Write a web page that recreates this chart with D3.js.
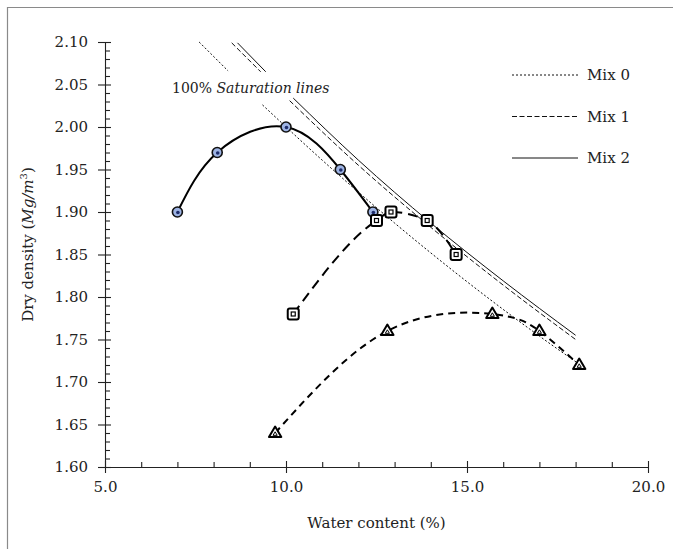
<!DOCTYPE html>
<html>
<head>
<meta charset="utf-8">
<script src="https://cdn.jsdelivr.net/npm/d3@7/dist/d3.min.js"></script>
<style>
  body { margin: 0; background: #fff; overflow: hidden; }
  svg { display: block; font-family: "DejaVu Serif", serif; }
  .axis path, .axis line { stroke: #222; stroke-width: 1.1; }
  .axis text { font-size: 15px; fill: #222; font-family: "DejaVu Serif", serif; }
</style>
</head>
<body>
<div id="chart"></div>
<script>
// Compaction curves (water content %, dry density Mg/m3)
const circleW = [7.0, 8.1, 10.0, 11.5, 12.4];
const circleD = [1.90, 1.97, 2.00, 1.95, 1.90];
const squareW = [10.2, 12.5, 12.9, 13.9, 14.7];
const squareD = [1.78, 1.89, 1.90, 1.89, 1.85];
const triW = [9.7, 12.8, 15.7, 17.0, 18.1];
const triD = [1.64, 1.76, 1.78, 1.76, 1.72];

// 100% saturation lines (upper piece / lower piece, gap for the label)
const sat0Upper = [[7.6, 2.100], [8.4, 2.066]];
const sat0Lower = [[9.35, 2.026], [11.0, 1.961], [13.0, 1.887], [15.0, 1.818], [17.0, 1.754], [18.1, 1.721]];
const sat1Upper = [[8.5, 2.099], [9.3, 2.065]];
const sat1Lower = [[10.1, 2.031], [12.0, 1.955], [14.0, 1.882], [16.0, 1.814], [18.0, 1.750]];
const sat2Upper = [[8.66, 2.099], [9.44, 2.065]];
const sat2Lower = [[10.2, 2.034], [12.0, 1.961], [14.0, 1.887], [16.0, 1.819], [18.0, 1.755]];

const legendLabels = ["Mix 0", "Mix 1", "Mix 2"];
const xMajor = [5, 10, 15, 20];
const yMajor = [1.60, 1.65, 1.70, 1.75, 1.80, 1.85, 1.90, 1.95, 2.00, 2.05, 2.10];

const W = 673, H = 549;
const svg = d3.select("#chart").append("svg").attr("width", W).attr("height", H);

// outer frame: only its top and left edges are inside the picture
svg.append("path")
    .attr("d", `M7.5,${H} V7.5 H${W}`)
    .attr("fill", "none").attr("stroke", "#8a8a8a").attr("stroke-width", 1.2);

const x = d3.scaleLinear().domain([5, 20]).range([105, 648]);
const y = d3.scaleLinear().domain([1.6, 2.1]).range([467, 42]);

const xMinor = d3.range(6, 20).filter(v => v % 5 !== 0);
const yMinor = d3.range(160, 211).filter(v => v % 5 !== 0).map(v => v / 100);

// x axis
const xAxisY = y(1.6);
svg.append("g").attr("class", "axis")
    .attr("transform", `translate(0,${xAxisY})`)
    .call(d3.axisBottom(x).tickValues(xMajor).tickSize(6).tickSizeOuter(0)
        .tickPadding(8).tickFormat(d3.format(".1f")));
svg.append("g").attr("class", "axis")
    .attr("transform", `translate(0,${xAxisY})`)
    .call(d3.axisBottom(x).tickValues(xMajor).tickSize(-6).tickSizeOuter(0).tickFormat(""))
    .select(".domain").remove();
svg.append("g").attr("class", "axis")
    .attr("transform", `translate(0,${xAxisY})`)
    .call(d3.axisBottom(x).tickValues(xMinor).tickSize(-5).tickSizeOuter(0).tickFormat(""))
    .select(".domain").remove();

// y axis
const yAxisX = x(5);
svg.append("g").attr("class", "axis")
    .attr("transform", `translate(${yAxisX},0)`)
    .call(d3.axisLeft(y).tickValues(yMajor).tickSize(7).tickSizeOuter(0)
        .tickPadding(10).tickFormat(d3.format(".2f")));
svg.append("g").attr("class", "axis")
    .attr("transform", `translate(${yAxisX},0)`)
    .call(d3.axisLeft(y).tickValues(yMajor).tickSize(-6).tickSizeOuter(0).tickFormat(""))
    .select(".domain").remove();
svg.append("g").attr("class", "axis")
    .attr("transform", `translate(${yAxisX},0)`)
    .call(d3.axisLeft(y).tickValues(yMinor).tickSize(-5).tickSizeOuter(0).tickFormat(""))
    .select(".domain").remove();

// axis labels
svg.append("text")
    .attr("x", (x(5) + x(20)) / 2).attr("y", 528)
    .attr("text-anchor", "middle")
    .style("font-size", "15px").style("fill", "#222")
    .text("Water content (%)");

const yLab = svg.append("text")
    .attr("transform", `translate(33,${(y(1.6) + y(2.1)) / 2 - 10}) rotate(-90)`)
    .attr("text-anchor", "middle")
    .style("font-size", "15px").style("fill", "#222");
yLab.append("tspan").text("Dry density (");
yLab.append("tspan").style("font-style", "italic").text("Mg/m");
yLab.append("tspan").attr("dy", -6).style("font-size", "10px").text("3");
yLab.append("tspan").attr("dy", 6).text(")");

// saturation lines
const satLine = d3.line().x(d => x(d[0])).y(d => y(d[1])).curve(d3.curveMonotoneX);
const satStyles = [
    { up: sat0Upper, low: sat0Lower, dash: "2,2" },
    { up: sat1Upper, low: sat1Lower, dash: "5,2.5" },
    { up: sat2Upper, low: sat2Lower, dash: null }
];
satStyles.forEach(s => {
    [s.up, s.low].forEach(pts => {
        svg.append("path")
            .attr("d", satLine(pts))
            .attr("fill", "none")
            .attr("stroke", "#111")
            .attr("stroke-width", 1)
            .attr("stroke-dasharray", s.dash);
    });
});

const satText = svg.append("text")
    .attr("x", 172).attr("y", 93)
    .style("font-size", "14px").style("fill", "#222");
satText.append("tspan").text("100% ");
satText.append("tspan").style("font-style", "italic").text("Saturation lines");

// legend
legendLabels.forEach((lab, i) => {
    const ly = 75 + i * 41.5;
    svg.append("line")
        .attr("x1", 512).attr("x2", 578).attr("y1", ly).attr("y2", ly)
        .attr("stroke", "#111").attr("stroke-width", 1)
        .attr("stroke-dasharray", satStyles[i].dash);
    svg.append("text")
        .attr("x", 587).attr("y", ly + 5)
        .style("font-size", "15px").style("fill", "#222")
        .text(lab);
});

// compaction curves
const natLine = d3.line().x(d => x(d[0])).y(d => y(d[1])).curve(d3.curveNatural);
const monoLine = d3.line().x(d => x(d[0])).y(d => y(d[1])).curve(d3.curveMonotoneX);
const circlePts = d3.zip(circleW, circleD);
const squarePts = d3.zip(squareW, squareD);
const triPts = d3.zip(triW, triD);

svg.append("path").attr("d", natLine(circlePts))
    .attr("fill", "none").attr("stroke", "#000").attr("stroke-width", 2);
svg.append("path").attr("d", monoLine(squarePts))
    .attr("fill", "none").attr("stroke", "#000").attr("stroke-width", 2)
    .attr("stroke-dasharray", "10,6");
svg.append("path").attr("d", natLine(triPts))
    .attr("fill", "none").attr("stroke", "#000").attr("stroke-width", 2)
    .attr("stroke-dasharray", "7,5");

// markers
const cg = svg.append("g");
circlePts.forEach(p => {
    cg.append("circle").attr("cx", x(p[0])).attr("cy", y(p[1])).attr("r", 5)
        .attr("fill", "#9db3e3").attr("stroke", "#111").attr("stroke-width", 1.6);
    cg.append("circle").attr("cx", x(p[0]) + 0.5).attr("cy", y(p[1]) + 0.5).attr("r", 1.8)
        .attr("fill", "#1d2c6b");
});

const sg = svg.append("g");
squarePts.forEach(p => {
    sg.append("rect").attr("x", x(p[0]) - 5.5).attr("y", y(p[1]) - 5.5)
        .attr("width", 11).attr("height", 11).attr("rx", 2)
        .attr("fill", "#fff").attr("stroke", "#000").attr("stroke-width", 2);
    sg.append("rect").attr("x", x(p[0]) - 2).attr("y", y(p[1]) - 2)
        .attr("width", 4).attr("height", 4)
        .attr("fill", "none").attr("stroke", "#000").attr("stroke-width", 1.2);
});

const tg = svg.append("g");
const triPath = (cx, cy, s) => `M${cx},${cy - s} L${cx + s * 0.95},${cy + s * 0.6} L${cx - s * 0.95},${cy + s * 0.6} Z`;
triPts.forEach(p => {
    tg.append("path").attr("d", triPath(x(p[0]), y(p[1]), 6.5))
        .attr("fill", "#fff").attr("stroke", "#000").attr("stroke-width", 2)
        .attr("stroke-linejoin", "round");
    tg.append("path").attr("d", triPath(x(p[0]), y(p[1]) + 1, 2.2))
        .attr("fill", "none").attr("stroke", "#000").attr("stroke-width", 1);
});
</script>
</body>
</html>
